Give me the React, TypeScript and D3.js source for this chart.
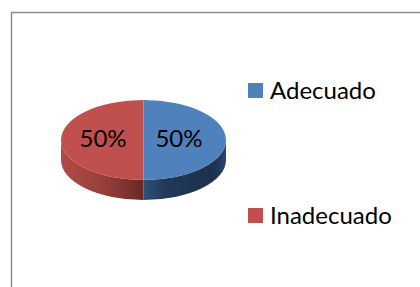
import React from 'react';
import * as d3 from 'd3';

// chart data
const categories = ['Adecuado', 'Inadecuado'];
const values = [50, 50];
const colors = ['#4F81BD', '#C0504D'];

const W = 420;
const H = 287;

// pie geometry (ellipse seen in perspective)
const cx = 143.5;
const cy = 140;
const rx = 82.5;
const ry = 40;
const depth = 20;

const pt = (a: number, dy = 0) => [cx + rx * Math.sin(a), cy - ry * Math.cos(a) + dy];

export default function App() {
    const pie = d3.pie<number>().sort(null).startAngle(0).endAngle(2 * Math.PI);
    const arcs = pie(values);
    const total = d3.sum(values);
    const fmt = d3.format('.0%');

    const topPath = (a0: number, a1: number) => {
        const [x0, y0] = pt(a0);
        const [x1, y1] = pt(a1);
        const large = a1 - a0 > Math.PI ? 1 : 0;
        return `M${cx},${cy}L${x0},${y0}A${rx},${ry} 0 ${large} 1 ${x1},${y1}Z`;
    };

    // only the front half of the wall is visible
    const sidePath = (a0: number, a1: number) => {
        const s = Math.max(a0, Math.PI / 2);
        const e = Math.min(a1, 1.5 * Math.PI);
        if (e <= s) return null;
        const [x0, y0] = pt(s);
        const [x1, y1] = pt(e);
        const [x2, y2] = pt(e, depth);
        const [x3, y3] = pt(s, depth);
        return `M${x0},${y0}A${rx},${ry} 0 0 1 ${x1},${y1}L${x2},${y2}A${rx},${ry} 0 0 0 ${x3},${y3}Z`;
    };

    const legendY = d3.scalePoint<string>().domain(categories).range([91, 216]);

    return (
        <svg width={W} height={H} style={{ position: 'absolute', left: 0, top: 0 }}>
            <defs>
                <linearGradient id="side0" gradientUnits="userSpaceOnUse" x1={cx} y1="0" x2={cx + rx} y2="0">
                    <stop offset="0" stopColor="#2f5079" />
                    <stop offset="0.25" stopColor="#22395a" />
                    <stop offset="0.85" stopColor="#1d314e" />
                    <stop offset="1" stopColor="#2b4568" />
                </linearGradient>
                <linearGradient id="side1" gradientUnits="userSpaceOnUse" x1={cx - rx} y1="0" x2={cx} y2="0">
                    <stop offset="0" stopColor="#b04a47" />
                    <stop offset="0.5" stopColor="#98403d" />
                    <stop offset="1" stopColor="#6c2725" />
                </linearGradient>
            </defs>
            <rect x={11.5} y={12.5} width={W} height={H} fill="#fff" stroke="#8c8c8c" strokeWidth={1.5} />
            <g>
                {arcs.map((d, i) => {
                    const p = sidePath(d.startAngle, d.endAngle);
                    return p ? <path key={i} d={p} fill={`url(#side${i})`} /> : null;
                })}
            </g>
            <g>
                {arcs.map((d, i) => (
                    <path key={i} d={topPath(d.startAngle, d.endAngle)} fill={colors[i]} />
                ))}
            </g>
            <g fontFamily="Lato, 'Open Sans', sans-serif" fontSize={24} fill="#000">
                {arcs.map((d, i) => {
                    const mid = (d.startAngle + d.endAngle) / 2;
                    const [x] = pt(mid);
                    const lx = cx + (x - cx) * 0.46 - 2.5;
                    return (
                        <text key={i} x={lx} y={147} textAnchor="middle">
                            {fmt(d.value / total)}
                        </text>
                    );
                })}
            </g>
            <g fontFamily="Lato, 'Open Sans', sans-serif" fontSize={24} fill="#000">
                {categories.map((c, i) => (
                    <g key={c} transform={`translate(248,${legendY(c)})`}>
                        <rect x={0} y={-8} width={15} height={15} fill={colors[i]} />
                        <text x={22} y={8}>{c}</text>
                    </g>
                ))}
            </g>
        </svg>
    );
}
